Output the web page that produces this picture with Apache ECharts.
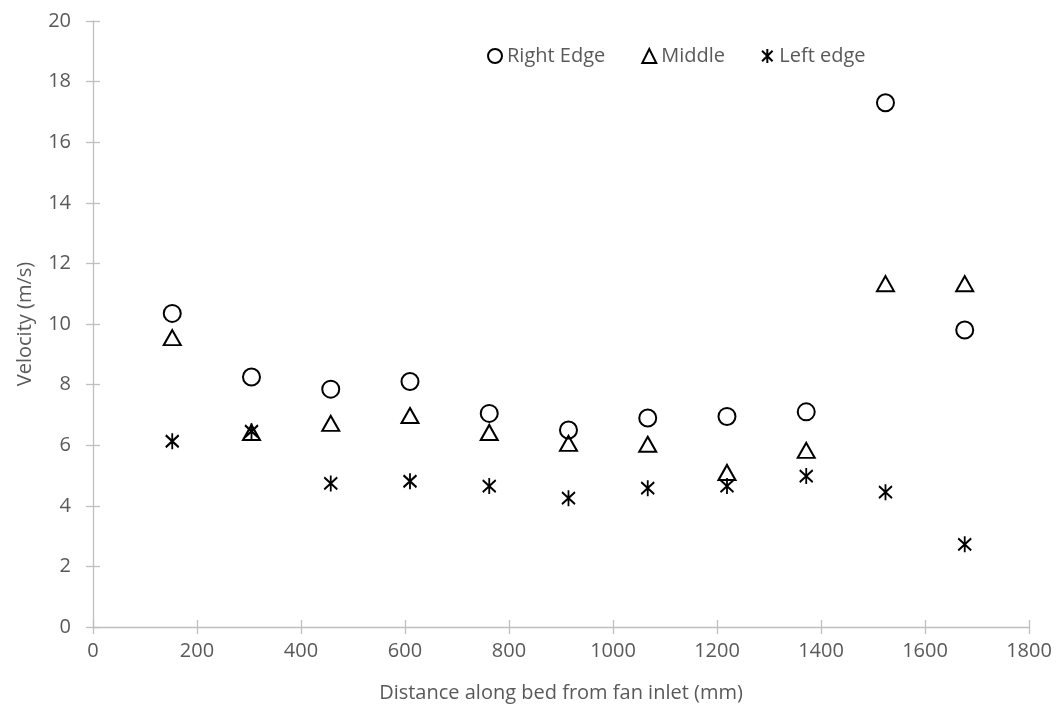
<!DOCTYPE html>
<html>
<head>
<meta charset="utf-8">
<script src="https://cdn.jsdelivr.net/npm/echarts@6/dist/echarts.min.js"></script>
<style>
  html, body { margin: 0; padding: 0; background: #fff; }
  #chart { width: 1061px; height: 711px; }
</style>
</head>
<body>
<div id="chart"></div>
<script>
// Measurement positions along the bed (mm)
const distances = [152.4, 304.8, 457.2, 609.6, 762, 914.4, 1066.8, 1219.2, 1371.6, 1524, 1676.4];

// Velocities (m/s) at each position
const rightEdge = [10.35, 8.25, 7.85, 8.1, 7.05, 6.5, 6.9, 6.95, 7.1, 17.3, 9.8];
const middle    = [9.55, 6.42, 6.72, 6.98, 6.42, 6.06, 6.03, 5.1, 5.83, 11.33, 11.33];
const leftEdge  = [6.13, 6.46, 4.74, 4.81, 4.65, 4.25, 4.58, 4.65, 4.98, 4.45, 2.73];

const seriesNames = ['Right Edge', 'Middle', 'Left edge'];

const FONT = '"Open Sans", "Liberation Sans", sans-serif';
const TEXT = '#595959';
const AXIS = '#BFBFBF';

const pairs = (ys) => distances.map((x, i) => [x, ys[i]]);

// Asterisk marker: vertical stroke plus a steep X
const asterisk = 'path://M6,0L6,16M0,2L12,14M0,14L12,2';

const markerStyle = { color: 'rgba(0,0,0,0)', borderColor: '#000', borderWidth: 2, opacity: 1 };

const xBase = { type: 'value', min: 0, max: 1800, interval: 200 };
const yBase = { type: 'value', min: 0, max: 20, interval: 2 };
const plain = (v) => String(v);

const chart = echarts.init(document.getElementById('chart'));
chart.setOption({
  backgroundColor: '#fff',
  animation: false,
  textStyle: { fontFamily: FONT },
  grid: { left: 93, right: 32, top: 21, bottom: 84 },
  legend: {
    left: 482, top: 41,
    itemWidth: 14, itemHeight: 14, itemGap: 36,
    textStyle: { color: TEXT, fontSize: 20, fontFamily: FONT },
    data: seriesNames
  },
  xAxis: [
    Object.assign({}, xBase, {
      name: 'Distance along bed from fan inlet (mm)',
      nameLocation: 'middle', nameGap: 56,
      nameTextStyle: { color: TEXT, fontSize: 20, fontFamily: FONT },
      axisLine: { show: true, lineStyle: { color: AXIS, width: 1.3 } },
      axisTick: { show: true, length: 7, lineStyle: { color: AXIS, width: 1.3 } },
      axisLabel: { color: TEXT, fontSize: 20, fontFamily: FONT, margin: 14, formatter: plain },
      splitLine: { show: false }
    }),
    Object.assign({}, xBase, {
      position: 'bottom',
      axisLine: { show: false },
      axisTick: { show: true, inside: true, length: 7, lineStyle: { color: AXIS, width: 1.3 } },
      axisLabel: { show: false },
      splitLine: { show: false }
    })
  ],
  yAxis: [
    Object.assign({}, yBase, {
      name: 'Velocity (m/s)',
      nameLocation: 'middle', nameGap: 58,
      nameTextStyle: { color: TEXT, fontSize: 20, fontFamily: FONT },
      axisLine: { show: true, lineStyle: { color: AXIS, width: 1.3 } },
      axisTick: { show: true, length: 7, lineStyle: { color: AXIS, width: 1.3 } },
      axisLabel: { color: TEXT, fontSize: 20, fontFamily: FONT, margin: 22, formatter: plain },
      splitLine: { show: false }
    }),
    Object.assign({}, yBase, {
      position: 'left',
      axisLine: { show: false },
      axisTick: { show: true, inside: true, length: 7, lineStyle: { color: AXIS, width: 1.3 } },
      axisLabel: { show: false },
      splitLine: { show: false }
    })
  ],
  series: [
    {
      name: seriesNames[0], type: 'scatter', data: pairs(rightEdge),
      symbol: 'circle', symbolSize: 17, itemStyle: markerStyle
    },
    {
      name: seriesNames[1], type: 'scatter', data: pairs(middle),
      symbol: 'triangle', symbolSize: [17, 15], itemStyle: markerStyle
    },
    {
      name: seriesNames[2], type: 'scatter', data: pairs(leftEdge),
      symbol: asterisk, symbolSize: [13, 16], symbolKeepAspect: false, itemStyle: markerStyle
    }
  ]
});
</script>
</body>
</html>
